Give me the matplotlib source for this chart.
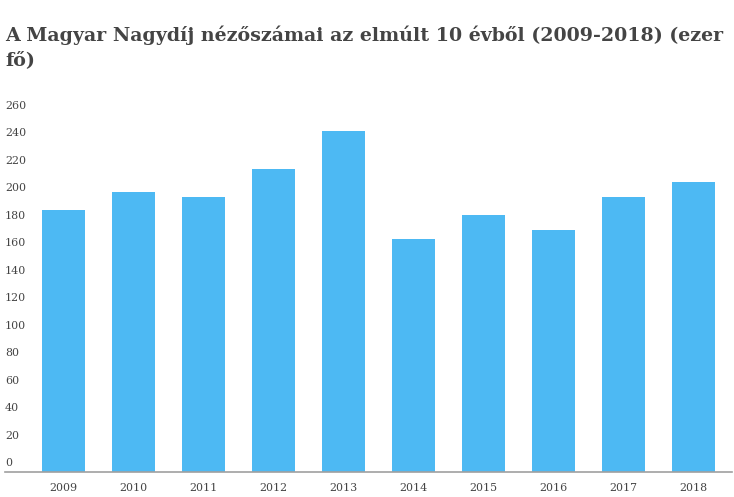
import matplotlib
matplotlib.use("Agg")
import matplotlib.pyplot as plt
import matplotlib.transforms as mtransforms

# adatok (ezer fő)
years = ["2009", "2010", "2011", "2012", "2013", "2014", "2015", "2016", "2017", "2018"]
visitors = [191, 204, 200, 221, 248, 170, 187, 176, 200, 211]
y_ticks = [0, 20, 40, 60, 80, 100, 120, 140, 160, 180, 200, 220, 240, 260]
title = "A Magyar Nagydíj nézőszámai az elmúlt 10 évből (2009-2018) (ezer\nfő)"

W, H = 734, 497
fig = plt.figure(figsize=(W / 100, H / 100), dpi=100)
ax = fig.add_axes([5 / W, (H - 472) / H, (732 - 5) / W, (472 - 115) / H])

ax.bar(range(len(years)), visitors, width=0.614, color="#4db9f3", zorder=2)
ax.set_xlim(-0.836, 9.55)
ax.set_ylim(0, 260)

for side in ["top", "right", "left"]:
    ax.spines[side].set_visible(False)
ax.spines["bottom"].set_color("#a0a0a0")
ax.spines["bottom"].set_linewidth(1.2)

ax.set_xticks(range(len(years)))
ax.set_xticklabels(years, fontfamily="DejaVu Serif", fontsize=7.9, color="#444444")
ax.tick_params(axis="x", length=0, pad=8)
ax.set_yticks([])

# y címkék a vonal fölött, balra igazítva
trans = mtransforms.blended_transform_factory(ax.transAxes, ax.transData)
trans = mtransforms.offset_copy(trans, fig=fig, x=0, y=9, units="dots")
for v in y_ticks:
    ax.text(0, v, str(v), transform=trans, ha="left", va="center",
            fontfamily="DejaVu Serif", fontsize=7.9, color="#444444")

line1, line2 = title.split("\n")
fig.text(5 / W, 1 - 41 / H, line1, ha="left", va="baseline",
         fontfamily="DejaVu Serif", fontweight="bold", fontsize=13.65, color="#444444")
fig.text(5 / W, 1 - 65 / H, line2, ha="left", va="baseline",
         fontfamily="DejaVu Serif", fontweight="bold", fontsize=13.65, color="#444444")

fig.savefig("out.png", dpi=100)
